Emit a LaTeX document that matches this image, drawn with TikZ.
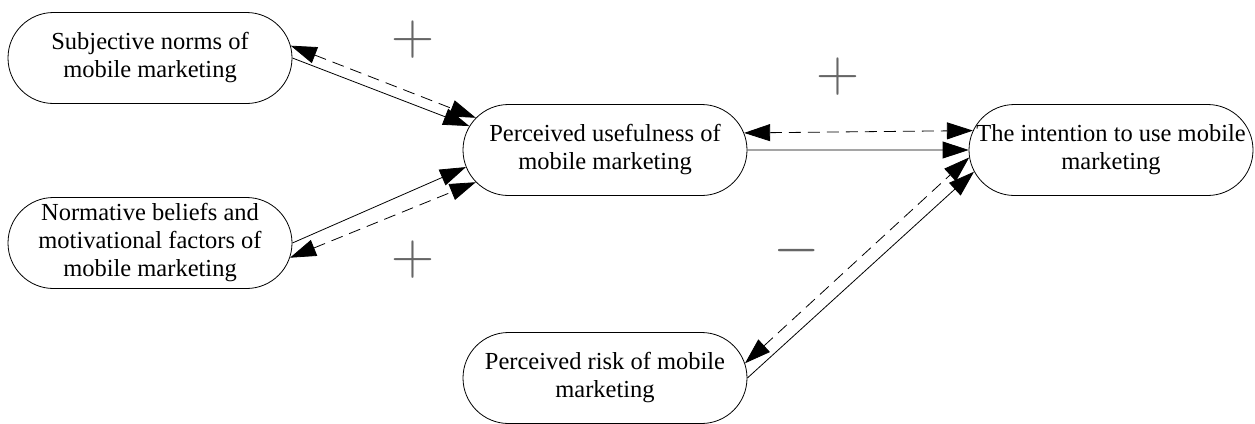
\documentclass[tikz,border=0pt]{standalone}
\usepackage{fontspec}
\setmainfont{Liberation Serif}
\usepackage{tikz}
\usetikzlibrary{
    arrows.meta,
    shapes.misc,
    positioning
}

\begin{document}
\begin{tikzpicture}[x=1pt, y=-1pt, line width=0.8pt,
    pill/.style={draw, rounded rectangle, minimum width=284pt, minimum height=91pt, inner sep=0pt},
    txt/.style={align=center, inner sep=0pt, font=\fontsize{24.5}{28}\selectfont},
    sign/.style={inner sep=0pt, text=black!60, font=\fontsize{24.88}{25}\selectfont},
    link/.style={-{Triangle[length=26pt, width=17pt]}},
    back/.style={{Triangle[length=26pt, width=17pt]}-{Triangle[length=26pt, width=17pt]}, dash pattern=on 12pt off 7pt}]
                        \useasboundingbox (0, 0) rectangle (1255, 423);

                        \node[pill] (norms) at (150, 58) {};
                        \node[pill] (beliefs) at (150, 243) {};
                        \node[pill] (useful) at (605, 150) {};
                        \node[pill] (intent) at (1111, 150) {};
                        \node[pill] (risk) at (605, 378) {};

                        \node[txt] (normstext) at (norms) {Subjective norms of\\mobile marketing};
                        \node[txt] (beliefstext) at (beliefs) {Normative beliefs and\\motivational factors of\\mobile marketing};
                        \node[txt] (usefultext) at (useful) {Perceived usefulness of\\mobile marketing};
                        \node[txt] (intenttext) at (intent) {The intention to use mobile\\marketing};
                        \node[txt] (risktext) at (risk) {Perceived risk of mobile\\marketing};

                        \node[sign] (plusnorms) at (413, 40) {\scalebox{2.4}{$+$}};
                        \node[sign] (plusbeliefs) at (413, 260) {\scalebox{2.4}{$+$}};
                        \node[sign] (plususeful) at (838, 77) {\scalebox{2.4}{$+$}};
                        \node[sign] (minusrisk) at (797, 251) {\scalebox{2.4}{$-$}};

                        \draw
                        (norms.0) edge[link] (useful.170)
                        (norms.5) edge[back] (useful.166)
                        (beliefs.0) edge[link] (useful.187)
                        (beliefs.-6.5) edge[back] (useful.194)
                        (useful.0) edge[link] (intent.180)
                        (useful.7.4) edge[back] (intent.172.6)
                        (risk.0) edge[link] (intent.189)
                        (risk.6.6) edge[back] (intent.183.6);
                    \end{tikzpicture}
\end{document}
